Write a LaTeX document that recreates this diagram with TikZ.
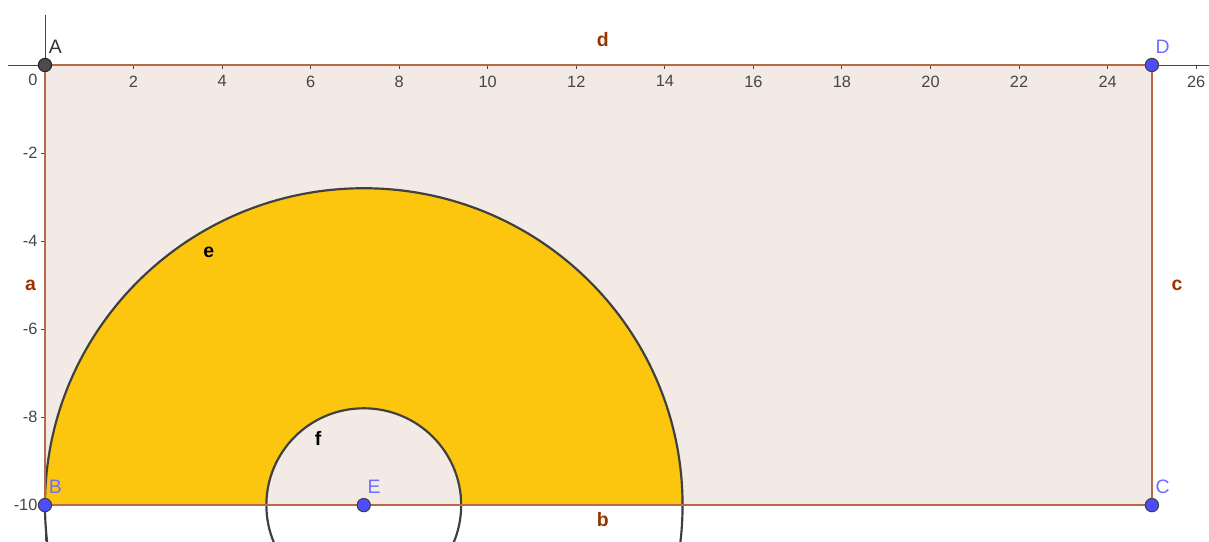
\documentclass[tikz,border=0pt]{standalone}
\usepackage{fontspec}
\setmainfont{Liberation Sans}
\usetikzlibrary{positioning}
\definecolor{segbrown}{RGB}{153, 51, 0}
\definecolor{segline}{RGB}{184, 106, 72}
\definecolor{polyfill}{RGB}{243, 233, 229}
\definecolor{sectoryellow}{RGB}{252, 198, 14}
\definecolor{pointblue}{RGB}{77, 77, 255}
\definecolor{labelblue}{RGB}{110, 110, 255}
\definecolor{circlegray}{RGB}{64, 64, 64}
\definecolor{axisgray}{RGB}{70, 70, 70}

\begin{document}
\begin{tikzpicture}[
    x=1cm, y=0.994cm,
    seg/.style={draw=segline, line width=1.5pt},
    circ/.style={draw=circlegray, line width=1.4pt},
    freept/.style={circle, fill=pointblue, draw=black!75, line width=0.7pt, inner sep=0pt, minimum size=8.5pt},
    fixpt/.style={circle, fill=black!70, draw=black!85, line width=0.7pt, inner sep=0pt, minimum size=8.5pt},
    ptlabel/.style={text=labelblue, font=\fontsize{12.5}{14}\selectfont, inner sep=1pt},
    seglabel/.style={text=segbrown, font=\fontsize{12.5}{14}\selectfont\bfseries, inner sep=1pt},
    numlabel/.style={text=axisgray, font=\fontsize{10.5}{12}\selectfont, inner sep=1pt},
    axis/.style={draw=axisgray, line width=0.6pt}
]
    \useasboundingbox (-1.016,1.477) rectangle (26.29,-10.818);

    % Polygon and sector
    \coordinate (A) at (0,0);
    \coordinate (B) at (0,-10);
    \coordinate (C) at (25,-10);
    \coordinate (D) at (25,0);
    \coordinate (E) at (7.2,-10);
    \fill[polyfill] (A) rectangle (C);
    \fill[sectoryellow] (B) arc[start angle=180, end angle=0, radius=7.2]
        -- ([xshift=2.2cm]E) arc[start angle=0, end angle=180, radius=2.2] -- cycle;

    % Axes
    \draw[axis] (-0.84,0) -- (26.29,0);
    \draw[axis] (0,1.14) -- (0,-10.818);
    \foreach \t in {2,4,...,26}
        \draw[axis] (\t,0) -- (\t,-0.09) node[numlabel, below=3pt] {\t};
    \foreach \t in {-2,-4,...,-10}
        \draw[axis] (0,\t) -- (-0.09,\t) node[numlabel, left=1pt] {\t};
    \node[numlabel] (zero) at (-0.27,-0.34) {0};

    % Circles
    \begin{scope}
        \clip (-1.016,1.477) rectangle (26.29,-10.818);
        \draw[circ] (E) circle[radius=7.2];
        \draw[circ] (E) circle[radius=2.2];
    \end{scope}

    % Segments
    \draw[seg] (A) -- node[seglabel, left=4pt] {a} (B);
    \draw[seg] (B) -- node[seglabel, below=3pt, pos=0.504] {b} (C);
    \draw[seg] (C) -- node[seglabel, right=11pt] {c} (D);
    \draw[seg] (D) -- node[seglabel, above=10pt, pos=0.496] {d} (A);

    % Circle labels
    \node[text=black, font=\fontsize{12.5}{14}\selectfont\bfseries] (elabel) at (3.7,-4.25) {e};
    \node[text=black, font=\fontsize{12.5}{14}\selectfont\bfseries] (flabel) at (6.17,-8.48) {f};

    % Points
    \node[fixpt] (ptA) at (A) {};
    \node[freept] (ptB) at (B) {};
    \node[freept] (ptC) at (C) {};
    \node[freept] (ptD) at (D) {};
    \node[freept] (ptE) at (E) {};
    \node[ptlabel, text=black!80, above right=3pt and -2pt of ptA] {A};
    \node[ptlabel, above right=3pt and -2pt of ptB] {B};
    \node[ptlabel, above right=3pt and -2pt of ptC] {C};
    \node[ptlabel, above right=3pt and -2pt of ptD] {D};
    \node[ptlabel, above right=3pt and -2pt of ptE] {E};
\end{tikzpicture}
\end{document}
